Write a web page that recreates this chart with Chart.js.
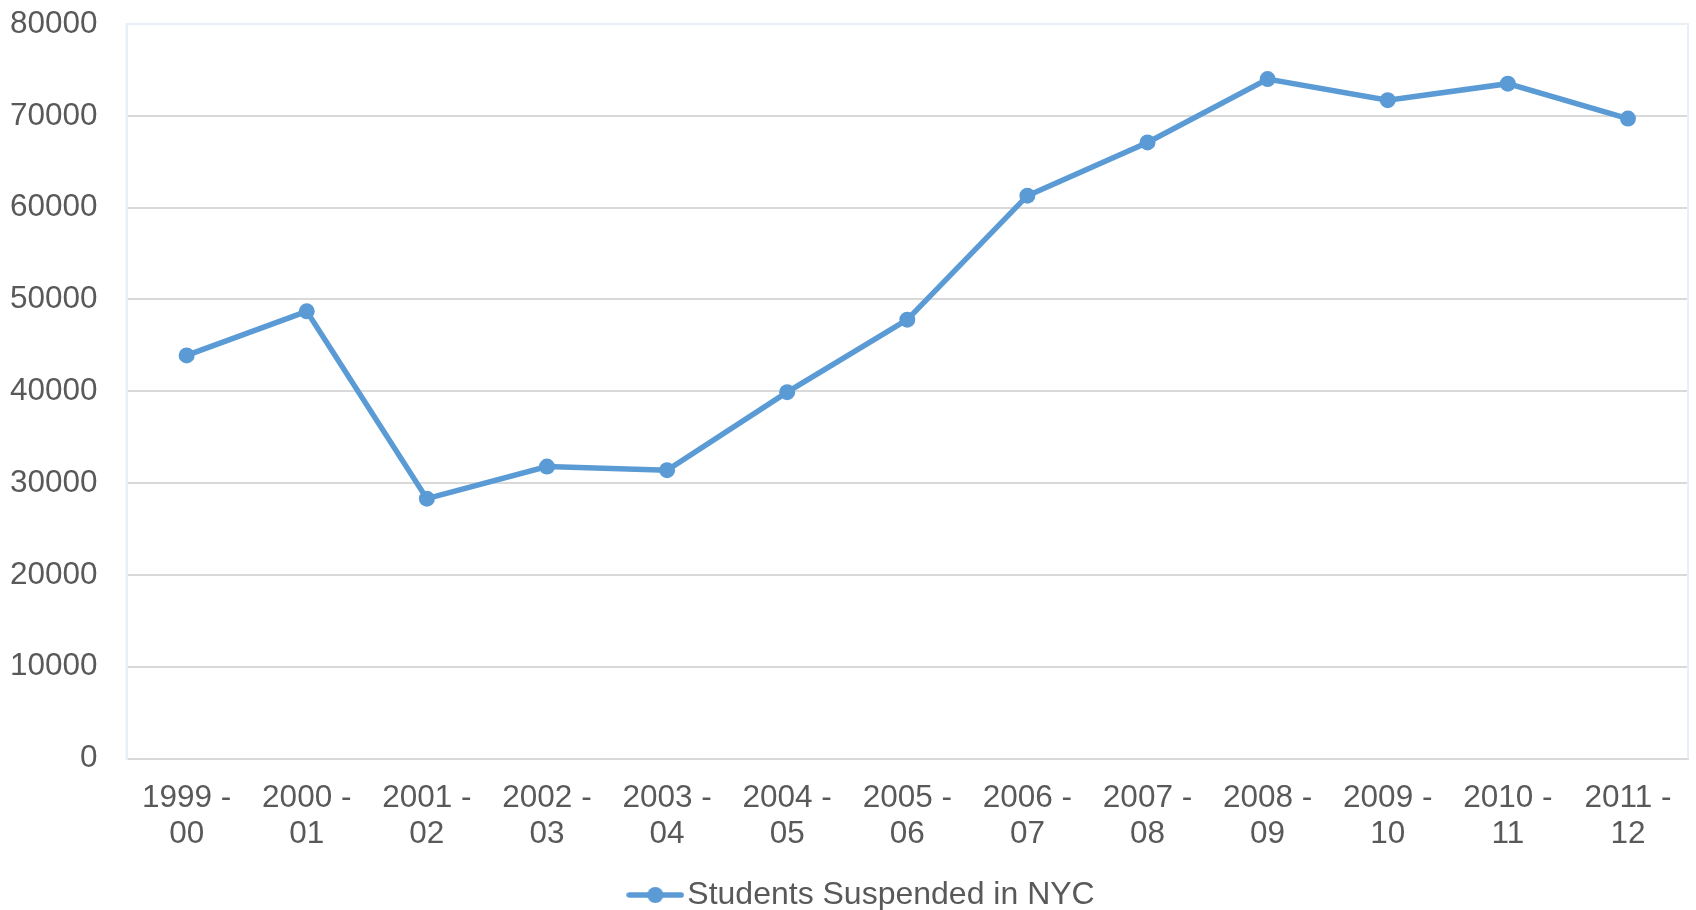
<!DOCTYPE html>
<html>
<head>
<meta charset="utf-8">
<script src="https://cdn.jsdelivr.net/npm/chart.js@4"></script>
<style>
    body { margin: 0; background: #fff; }
    #wrap { width: 1696px; height: 910px; }
</style>
</head>
<body>
<div id="wrap"><canvas id="chart" width="1696" height="910"></canvas></div>
<script>
const seasons = [
    ['1999 -', '00'], ['2000 -', '01'], ['2001 -', '02'], ['2002 -', '03'],
    ['2003 -', '04'], ['2004 -', '05'], ['2005 -', '06'], ['2006 -', '07'],
    ['2007 -', '08'], ['2008 -', '09'], ['2009 -', '10'], ['2010 -', '11'],
    ['2011 -', '12']];
const suspended = [43900, 48700, 28300, 31800, 31400, 39900, 47800, 61300, 67100, 74000, 71700, 73500, 69700];
const seriesName = 'Students Suspended in NYC';

const LINE_COLOR = '#5b9bd5';
const TEXT_COLOR = '#595959';
const GRID_COLOR = '#d9d9d9';
const FRAME_COLOR = '#e9eff7';
const FONT_SIZE = 31.5;

function makeLegendMarker() {
    let c = document.createElement('canvas');
    c.width = 58;
    c.height = 18;
    let ctx = c.getContext('2d');
    ctx.strokeStyle = LINE_COLOR;
    ctx.lineWidth = 5.5;
    ctx.lineCap = 'round';
    ctx.beginPath();
    ctx.moveTo(3, 9);
    ctx.lineTo(55, 9);
    ctx.stroke();
    ctx.fillStyle = LINE_COLOR;
    ctx.beginPath();
    ctx.arc(29, 9, 8, 0, Math.PI * 2);
    ctx.fill();
    return c;
}

// faint frame round the plot area
const plotFrame = {
    id: 'plotFrame',
    beforeDatasetsDraw(chart) {
        const a = chart.chartArea;
        const ctx = chart.ctx;
        ctx.save();
        ctx.strokeStyle = FRAME_COLOR;
        ctx.lineWidth = 2;
        ctx.beginPath();
        ctx.moveTo(a.left, a.bottom);
        ctx.lineTo(a.left, a.top);
        ctx.lineTo(a.right, a.top);
        ctx.lineTo(a.right, a.bottom);
        ctx.stroke();
        ctx.restore();
    }
};

// legend in the original sits a little right of the canvas centre
const legendNudge = {
    id: 'legendNudge',
    afterLayout(chart) {
        if (chart.legend) {
            chart.legend.left += 32;
            chart.legend.top += 2;
            chart.legend.bottom += 2;
        }
    }
};

Chart.defaults.font.family = '"Liberation Sans", Arial, sans-serif';
Chart.defaults.color = TEXT_COLOR;

const legendMarker = makeLegendMarker();

new Chart(document.getElementById('chart').getContext('2d'), {
    type: 'line',
    data: {
        labels: seasons,
        datasets: [{
            label: seriesName,
            data: suspended,
            borderColor: LINE_COLOR,
            backgroundColor: LINE_COLOR,
            borderWidth: 5.5,
            pointRadius: 8,
            pointHoverRadius: 8,
            pointBackgroundColor: LINE_COLOR,
            pointBorderWidth: 0,
            pointStyle: 'circle',
            tension: 0
        }]
    },
    options: {
        responsive: false,
        devicePixelRatio: 1,
        animation: false,
        layout: {
            padding: { left: 10, right: 4, top: 24, bottom: -9 }
        },
        scales: {
            x: {
                offset: true,
                grid: { display: true, color: 'rgba(0,0,0,0)', drawTicks: true, tickLength: 22 },
                border: { display: true, color: GRID_COLOR, width: 2 },
                ticks: {
                    padding: 0,
                    maxRotation: 0,
                    autoSkip: false,
                    font: { size: FONT_SIZE, lineHeight: 36 / FONT_SIZE },
                    color: TEXT_COLOR
                },
                afterFit: (scale) => { scale.height += 24.5; }
            },
            y: {
                min: 0,
                max: 80000,
                grid: {
                    drawTicks: true,
                    tickLength: 29,
                    tickColor: 'rgba(0,0,0,0)',
                    lineWidth: 2,
                    color: (ctx) => ctx.tick && ctx.tick.value === 80000 ? FRAME_COLOR : GRID_COLOR
                },
                border: { display: true, color: FRAME_COLOR, width: 2 },
                ticks: {
                    stepSize: 10000,
                    padding: 0,
                    font: { size: FONT_SIZE },
                    color: TEXT_COLOR,
                    callback: (value) => String(value)
                }
            }
        },
        plugins: {
            legend: {
                position: 'bottom',
                labels: {
                    usePointStyle: true,
                    font: { size: 32 },
                    color: TEXT_COLOR,
                    padding: 0,
                    generateLabels: (chart) => [{
                        text: seriesName,
                        pointStyle: legendMarker,
                        fillStyle: LINE_COLOR,
                        strokeStyle: LINE_COLOR,
                        fontColor: TEXT_COLOR,
                        lineWidth: 0,
                        hidden: false,
                        datasetIndex: 0
                    }]
                }
            },
            tooltip: { enabled: false }
        }
    },
    plugins: [plotFrame, legendNudge]
});
</script>
</body>
</html>
